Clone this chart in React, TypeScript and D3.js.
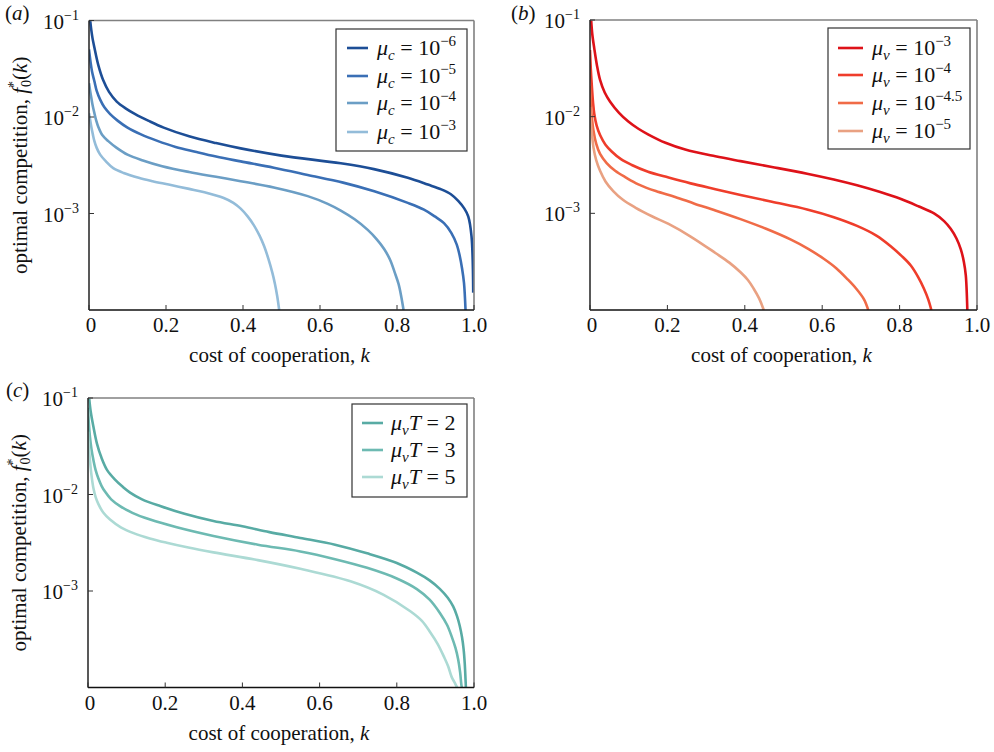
import React from "react";
import * as d3 from "d3";

// ---------- DATA (k = cost of cooperation, values = log10 f0*(k)) ----------
const xTicks = [0, 0.2, 0.4, 0.6, 0.8, 1.0];
const xTickLabels = ["0", "0.2", "0.4", "0.6", "0.8", "1.0"];
const yTicks = [1e-1, 1e-2, 1e-3];
const yTickExps = ["−1", "−2", "−3"];

// panel (a)
const aLabels = ["−6", "−5", "−4", "−3"];
const aK1 = [0.003, 0.006, 0.009, 0.014, 0.024, 0.037, 0.052, 0.072, 0.095, 0.12, 0.155, 0.194, 0.26, 0.33, 0.394, 0.5, 0.654, 0.74, 0.828, 0.88, 0.915, 0.94, 0.959, 0.975, 0.985, 0.9935, 0.998];
const aF1 = [-1.0, -1.1, -1.18, -1.28, -1.46, -1.62, -1.74, -1.84, -1.91, -1.97, -2.04, -2.11, -2.2, -2.27, -2.325, -2.4, -2.48, -2.54, -2.63, -2.7, -2.75, -2.8, -2.87, -2.95, -3.03, -3.235, -3.82];
const aK2 = [0, 0.004, 0.008, 0.014, 0.02, 0.029, 0.04, 0.055, 0.075, 0.1, 0.135, 0.176, 0.225, 0.276, 0.33, 0.394, 0.48, 0.568, 0.66, 0.741, 0.828, 0.87, 0.898, 0.922, 0.941, 0.955, 0.963, 0.969, 0.974, 0.978];
const aF2 = [-1.3, -1.43, -1.53, -1.63, -1.73, -1.82, -1.9, -1.97, -2.04, -2.11, -2.18, -2.245, -2.31, -2.36, -2.41, -2.46, -2.525, -2.6, -2.68, -2.77, -2.89, -2.96, -3.03, -3.1, -3.2, -3.32, -3.44, -3.57, -3.72, -4.0];
const aK3 = [0, 0.003, 0.006, 0.009, 0.014, 0.019, 0.024, 0.035, 0.05, 0.072, 0.1, 0.14, 0.19, 0.26, 0.33, 0.394, 0.48, 0.568, 0.62, 0.654, 0.69, 0.724, 0.748, 0.767, 0.782, 0.794, 0.804, 0.811, 0.817];
const aF3 = [-1.65, -1.73, -1.8, -1.87, -1.96, -2.04, -2.1, -2.19, -2.25, -2.32, -2.39, -2.45, -2.51, -2.57, -2.62, -2.665, -2.73, -2.82, -2.9, -2.97, -3.06, -3.17, -3.27, -3.37, -3.48, -3.61, -3.73, -3.86, -4.0];
const aK4 = [0, 0.003, 0.006, 0.01, 0.014, 0.02, 0.029, 0.044, 0.063, 0.09, 0.129, 0.165, 0.207, 0.26, 0.3, 0.35, 0.375, 0.394, 0.412, 0.428, 0.443, 0.455, 0.466, 0.476, 0.483, 0.489, 0.494];
const aF4 = [-1.96, -2.03, -2.1, -2.18, -2.25, -2.32, -2.39, -2.46, -2.53, -2.58, -2.63, -2.665, -2.7, -2.745, -2.78, -2.84, -2.89, -2.95, -3.03, -3.12, -3.23, -3.34, -3.47, -3.61, -3.73, -3.86, -4.0];

// panel (b)
const bLabels = ["−3", "−4", "−4.5", "−5"];
const bK1 = [0.003, 0.006, 0.011, 0.018, 0.026, 0.038, 0.052, 0.075, 0.099, 0.125, 0.151, 0.195, 0.246, 0.324, 0.389, 0.47, 0.561, 0.63, 0.69, 0.75, 0.802, 0.85, 0.889, 0.915, 0.932, 0.947, 0.958, 0.966, 0.971, 0.975];
const bF1 = [-1.0, -1.15, -1.293, -1.47, -1.62, -1.75, -1.845, -1.96, -2.05, -2.125, -2.185, -2.27, -2.34, -2.41, -2.46, -2.52, -2.59, -2.65, -2.71, -2.78, -2.85, -2.93, -3.0, -3.08, -3.16, -3.26, -3.37, -3.5, -3.64, -4.0];
const bK2 = [0, 0.002, 0.005, 0.008, 0.011, 0.017, 0.026, 0.04, 0.056, 0.08, 0.108, 0.15, 0.203, 0.26, 0.324, 0.389, 0.47, 0.561, 0.63, 0.69, 0.74, 0.777, 0.805, 0.829, 0.848, 0.863, 0.874, 0.882];
const bF2 = [-1.31, -1.5, -1.7, -1.86, -1.97, -2.09, -2.19, -2.29, -2.36, -2.44, -2.5, -2.57, -2.63, -2.69, -2.75, -2.81, -2.88, -2.96, -3.04, -3.13, -3.23, -3.34, -3.44, -3.54, -3.66, -3.78, -3.89, -4.0];
const bK3 = [0, 0.002, 0.004, 0.009, 0.016, 0.026, 0.043, 0.065, 0.093, 0.125, 0.17, 0.22, 0.27, 0.324, 0.389, 0.455, 0.518, 0.565, 0.604, 0.637, 0.665, 0.688, 0.708, 0.719];
const bF3 = [-1.68, -1.84, -1.97, -2.145, -2.28, -2.386, -2.48, -2.56, -2.63, -2.7, -2.77, -2.83, -2.9, -2.97, -3.06, -3.16, -3.27, -3.37, -3.47, -3.57, -3.68, -3.78, -3.89, -4.0];
const bK4 = [0, 0.002, 0.005, 0.009, 0.016, 0.026, 0.04, 0.06, 0.085, 0.117, 0.16, 0.203, 0.26, 0.324, 0.36, 0.389, 0.408, 0.423, 0.437, 0.449];
const bF4 = [-1.9, -2.05, -2.18, -2.32, -2.45, -2.56, -2.67, -2.77, -2.86, -2.94, -3.03, -3.11, -3.24, -3.41, -3.51, -3.61, -3.69, -3.78, -3.88, -4.0];

// panel (c)
const cLabels = ["2", "3", "5"];
const cK1 = [0.003, 0.007, 0.0138, 0.023, 0.035, 0.05, 0.07, 0.09, 0.109, 0.14, 0.187, 0.25, 0.325, 0.4, 0.47, 0.55, 0.64, 0.723, 0.8, 0.852, 0.885, 0.912, 0.932, 0.946, 0.956, 0.963, 0.969, 0.973, 0.976, 0.978, 0.979];
const cF1 = [-1.0, -1.14, -1.293, -1.47, -1.62, -1.75, -1.845, -1.92, -1.98, -2.05, -2.12, -2.2, -2.275, -2.33, -2.39, -2.45, -2.52, -2.61, -2.71, -2.81, -2.89, -2.98, -3.07, -3.16, -3.26, -3.36, -3.48, -3.6, -3.75, -3.91, -4.0];
const cK2 = [0, 0.002, 0.005, 0.009, 0.0138, 0.02, 0.027, 0.035, 0.044, 0.06, 0.083, 0.115, 0.161, 0.23, 0.325, 0.44, 0.55, 0.64, 0.723, 0.8, 0.852, 0.885, 0.912, 0.93, 0.942, 0.952, 0.959, 0.964, 0.968, 0.969];
const cF2 = [-1.1, -1.25, -1.4, -1.53, -1.638, -1.75, -1.835, -1.91, -1.97, -2.05, -2.12, -2.19, -2.26, -2.34, -2.43, -2.52, -2.59, -2.67, -2.76, -2.87, -2.98, -3.09, -3.23, -3.35, -3.47, -3.59, -3.71, -3.84, -3.99, -4.0];
const cK3 = [0, 0.002, 0.005, 0.009, 0.0138, 0.02, 0.027, 0.04, 0.057, 0.085, 0.118, 0.16, 0.204, 0.26, 0.325, 0.44, 0.55, 0.68, 0.766, 0.835, 0.865, 0.887, 0.906, 0.922, 0.933, 0.942, 0.95, 0.955, 0.957];
const cF3 = [-1.35, -1.5, -1.64, -1.8, -1.93, -2.03, -2.1, -2.19, -2.26, -2.34, -2.4, -2.455, -2.5, -2.55, -2.6, -2.68, -2.77, -2.9, -3.04, -3.21, -3.31, -3.43, -3.55, -3.68, -3.78, -3.89, -3.95, -3.99, -4.0];

const aColors = ["#1d4e96", "#3a6fb5", "#6b9ec5", "#93bcd9"];
const bColors = ["#de1219", "#ef3d2b", "#f06b47", "#e9a182"];
const cColors = ["#58aba4", "#6dbab2", "#acdad4"];

const FONT = "Liberation Serif";

type Series = { k: number[]; f: number[]; color: string };
type LegendCfg = {
  x0: number; y0: number; x1: number; y1: number;
  lineX0: number; lineX1: number; textX: number; rows: number[];
  kind: "c" | "v" | "T"; labels: string[];
};

function LegendLabel({ kind, label, x, y }: { kind: string; label: string; x: number; y: number }) {
  if (kind === "T") {
    return (
      <text x={x} y={y} fontFamily={FONT} fontSize={22} fill="#111">
        <tspan fontStyle="italic">μ</tspan>
        <tspan fontStyle="italic" fontSize={15} dy={5}>v</tspan>
        <tspan fontStyle="italic" dy={-5}>T</tspan>
        <tspan> = {label}</tspan>
      </text>
    );
  }
  return (
    <text x={x} y={y} fontFamily={FONT} fontSize={22} fill="#111">
      <tspan fontStyle="italic">μ</tspan>
      <tspan fontStyle="italic" fontSize={15} dy={5}>{kind}</tspan>
      <tspan dy={-5}> = 10</tspan>
      <tspan fontSize={15} dy={-9}>{label}</tspan>
    </text>
  );
}

function Panel({ id, px0, px1, py0, py1, series, legend, tag, tagX, tagY, yTitle }: {
  id: string; px0: number; px1: number; py0: number; py1: number; series: Series[];
  legend: LegendCfg; tag: string; tagX: number; tagY: number; yTitle: boolean;
}) {
  const x = d3.scaleLinear().domain([0, 1]).range([px0, px1]);
  const y = d3.scaleLog().domain([1e-4, 1e-1]).range([py1, py0]);
  const line = d3.line<[number, number]>()
    .x((d) => x(d[0]))
    .y((d) => y(Math.pow(10, d[1])))
    .curve(d3.curveCatmullRom.alpha(0.5));
  const cx = (px0 + px1) / 2;
  const cy = (py0 + py1) / 2;
  return (
    <g>
      <defs>
        <clipPath id={`clip-${id}`}>
          <rect x={px0} y={py0} width={px1 - px0} height={py1 - py0} />
        </clipPath>
      </defs>
      <g clipPath={`url(#clip-${id})`}>
        {series.map((s, i) => (
          <path key={i} d={line(s.k.map((k, j) => [k, s.f[j]] as [number, number])) || ""}
            fill="none" stroke={s.color} strokeWidth={2.6} strokeLinejoin="round" />
        ))}
      </g>
      {/* frame */}
      <line x1={px0} x2={px1} y1={py0} y2={py0} stroke="#808080" strokeWidth={1.6} />
      <line x1={px1} x2={px1} y1={py0} y2={py1} stroke="#808080" strokeWidth={1.6} />
      <line x1={px0} x2={px0} y1={py0} y2={py1} stroke="#222" strokeWidth={1.5} />
      <line x1={px0} x2={px1} y1={py1} y2={py1} stroke="#111" strokeWidth={1.5} />
      {/* x ticks */}
      {xTicks.map((t, i) => (
        <g key={i}>
          <line x1={x(t)} x2={x(t)} y1={py1} y2={py1 - 5} stroke="#333" strokeWidth={1} />
          <text x={x(t) + (i === 0 ? 2 : 0)} y={py1 + 22} textAnchor="middle" fontFamily={FONT} fontSize={21} fill="#111">
            {xTickLabels[i]}
          </text>
        </g>
      ))}
      {/* y ticks */}
      {yTicks.map((t, i) => (
        <g key={i}>
          <line x1={px0} x2={px0 + 5} y1={y(t)} y2={y(t)} stroke="#333" strokeWidth={1} />
          <text x={px0 - 10} y={y(t) + 8} textAnchor="end" fontFamily={FONT} fontSize={21} fill="#111">
            <tspan>10</tspan>
            <tspan fontSize={14} dy={-9}>{yTickExps[i]}</tspan>
          </text>
        </g>
      ))}
      {/* x title */}
      <text x={cx - 2} y={py1 + 52} textAnchor="middle" fontFamily={FONT} fontSize={21} fill="#111">
        cost of cooperation, <tspan fontStyle="italic">k</tspan>
      </text>
      {/* y title */}
      {yTitle && (
        <text transform={`translate(${px0 - 62},${cy}) rotate(-90)`} textAnchor="middle"
          fontFamily={FONT} fontSize={21} fill="#111">
          <tspan>optimal competition, </tspan>
          <tspan fontStyle="italic">f</tspan>
          <tspan fontSize={14} dy={-9}>*</tspan>
          <tspan fontSize={14} dx={-6} dy={13}>0</tspan>
          <tspan dy={-4}>(</tspan>
          <tspan fontStyle="italic">k</tspan>
          <tspan>)</tspan>
        </text>
      )}
      {/* tag */}
      <text x={tagX} y={tagY} fontFamily={FONT} fontSize={21} fill="#111">
        (<tspan fontStyle="italic">{tag}</tspan>)
      </text>
      {/* legend */}
      <rect x={legend.x0} y={legend.y0} width={legend.x1 - legend.x0} height={legend.y1 - legend.y0}
        fill="#fff" stroke="#333" strokeWidth={1.2} />
      {legend.rows.map((ry, i) => (
        <g key={i}>
          <line x1={legend.lineX0} x2={legend.lineX1} y1={ry} y2={ry} stroke={series[i].color} strokeWidth={2.6} />
          <LegendLabel kind={legend.kind} label={legend.labels[i]} x={legend.textX} y={ry + 7} />
        </g>
      ))}
    </g>
  );
}

export default function App() {
  const aSeries: Series[] = [
    { k: aK1, f: aF1, color: aColors[0] },
    { k: aK2, f: aF2, color: aColors[1] },
    { k: aK3, f: aF3, color: aColors[2] },
    { k: aK4, f: aF4, color: aColors[3] },
  ];
  const bSeries: Series[] = [
    { k: bK1, f: bF1, color: bColors[0] },
    { k: bK2, f: bF2, color: bColors[1] },
    { k: bK3, f: bF3, color: bColors[2] },
    { k: bK4, f: bF4, color: bColors[3] },
  ];
  const cSeries: Series[] = [
    { k: cK1, f: cF1, color: cColors[0] },
    { k: cK2, f: cF2, color: cColors[1] },
    { k: cK3, f: cF3, color: cColors[2] },
  ];
  return (
    <svg width={994} height={752} style={{ position: "absolute", left: 0, top: 0, background: "#fff" }}>
      <rect x={0} y={0} width={994} height={752} fill="#fff" />
      <Panel id="a" px0={89} px1={474} py0={20.5} py1={310} series={aSeries} tag="a" tagX={5} tagY={20} yTitle
        legend={{ x0: 336, y0: 29, x1: 467, y1: 151, lineX0: 347, lineX1: 368, textX: 377, rows: [48, 76, 103, 132], kind: "c", labels: aLabels }} />
      <Panel id="b" px0={590} px1={977} py0={20} py1={310} series={bSeries} tag="b" tagX={511} tagY={20} yTitle={false}
        legend={{ x0: 828, y0: 28, x1: 970, y1: 149, lineX0: 838, lineX1: 863, textX: 872, rows: [48, 75, 103, 131], kind: "v", labels: bLabels }} />
      <Panel id="c" px0={88} px1={474} py0={398} py1={687.5} series={cSeries} tag="c" tagX={6} tagY={397} yTitle
        legend={{ x0: 352, y0: 404, x1: 467, y1: 497, lineX0: 362, lineX1: 383, textX: 391, rows: [423, 450, 477], kind: "T", labels: cLabels }} />
    </svg>
  );
}
